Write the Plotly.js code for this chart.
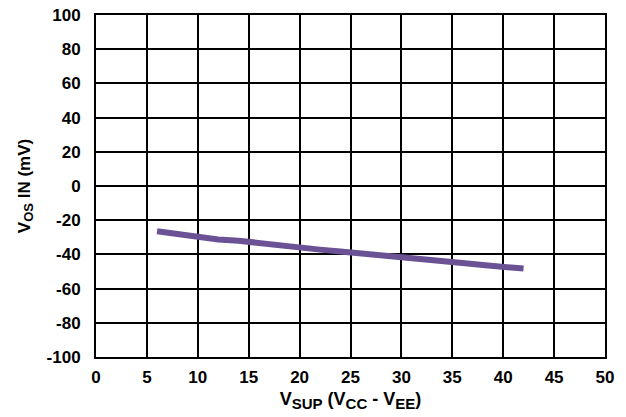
<!DOCTYPE html>
<html>
<head>
<meta charset="utf-8">
<script src="https://cdn.plot.ly/plotly-3.0.1.min.js"></script>
<style>html,body{margin:0;padding:0;background:#fff;}#chart{width:626px;height:417px;}</style>
</head>
<body>
<div id="chart"></div>
<script>
const vsup = [6, 8, 10, 12, 14, 16, 18, 20, 22, 24, 26, 28, 30, 32, 34, 36, 38, 40, 42];
const vosIn = [-26.5, -28.2, -30, -31.3, -32, -33.5, -34.3, -35.8, -37.2, -38.3, -39.3, -40.5, -41.3, -42.5, -44, -45, -46.2, -47.3, -48.3];
const xTicks = [0, 5, 10, 15, 20, 25, 30, 35, 40, 45, 50];
const yTicks = [-100, -80, -60, -40, -20, 0, 20, 40, 60, 80, 100];

const tickFont = {family: 'Liberation Sans, Arial, sans-serif', size: 17, color: '#000', weight: 700};
const xTitleFont = {family: 'Liberation Sans, Arial, sans-serif', size: 18, color: '#000', weight: 700};
const yTitleFont = {family: 'Liberation Sans, Arial, sans-serif', size: 17, color: '#000', weight: 700};
const sub = (s, px) => '<sub><span style="font-size:' + px + 'px">' + s + '</span></sub>';

Plotly.newPlot('chart', [{
  x: vsup, y: vosIn, type: 'scatter', mode: 'lines',
  line: {color: '#6a5294', width: 6},
  hoverinfo: 'skip'
}], {
  width: 626, height: 417,
  margin: {l: 96, r: 21, t: 15, b: 60},
  paper_bgcolor: '#fff', plot_bgcolor: '#fff',
  showlegend: false,
  font: tickFont,
  xaxis: {
    range: [0, 50], tickvals: xTicks, ticktext: xTicks.map(String),
    showgrid: true, gridcolor: '#000', gridwidth: 2,
    showline: true, linecolor: '#000', linewidth: 2, mirror: true,
    zeroline: false, ticks: '', ticklabelstandoff: 4,
    tickfont: tickFont,
    title: {text: 'V' + sub('SUP', 15) + ' (V' + sub('CC', 15) + ' - V' + sub('EE', 15) + ')', font: xTitleFont, standoff: 6}
  },
  yaxis: {
    range: [-100, 100], tickvals: yTicks, ticktext: yTicks.map(String),
    showgrid: true, gridcolor: '#000', gridwidth: 2,
    showline: true, linecolor: '#000', linewidth: 2, mirror: true,
    zeroline: false, ticks: '', ticklabelstandoff: 10,
    tickfont: tickFont,
    title: {text: 'V' + sub('OS', 13) + ' IN (mV)', font: yTitleFont, standoff: 12}
  }
}, {staticPlot: true});
</script>
</body>
</html>
